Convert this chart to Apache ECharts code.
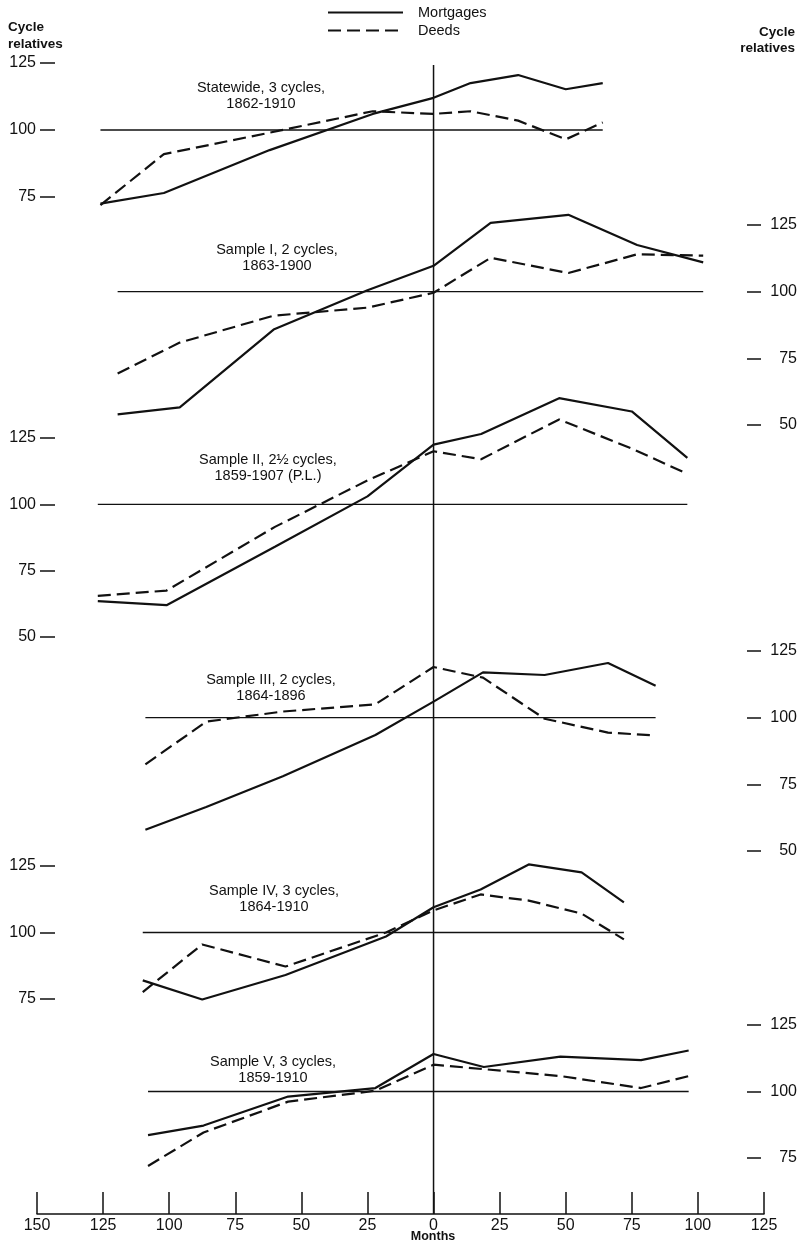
<!DOCTYPE html>
<html>
<head>
<meta charset="utf-8">
<title>Mortgages and deeds: cycle relatives</title>
<script src="https://cdn.jsdelivr.net/npm/echarts@6/dist/echarts.min.js"></script>
<style>
  html, body { margin: 0; padding: 0; background: #fff; }
  #chart { width: 804px; height: 1241px; }
</style>
</head>
<body>
<div id="chart"></div>
<script>
// Months from the reference date (0 = cycle peak) and cycle relatives per panel
const months1 = [-126, -102, -62, -23, 0, 14, 32, 50, 64];
const mortgages1 = [72.5, 76.5, 92.5, 106, 112, 117.5, 120.5, 115.2, 117.5];
const deeds1 = [72, 91, 99, 107, 106, 107, 103.5, 96.5, 102.8];

const months2 = [-119.5, -96, -60.5, -25, 0, 21.6, 51, 77, 102];
const mortgages2 = [54, 56.6, 85.8, 100.5, 109.7, 125.8, 128.8, 117.5, 111];
const deeds2 = [69.3, 80.9, 91, 94, 99.6, 112.7, 107, 114, 113.5];

const months3 = [-127, -101, -60, -25, 0, 18, 47.5, 75, 96];
const mortgages3 = [63.5, 62, 84, 103, 122.5, 126.5, 140, 135, 117.5];
const deeds3 = [65.5, 67.5, 91.5, 109, 120, 117, 132, 121, 111.5];

const months4 = [-109, -86, -57, -22, 0, 18.7, 42, 66, 84];
const mortgages4 = [58, 66.5, 78, 93.5, 106, 117, 116, 120.5, 112];
const deeds4 = [82.5, 98.5, 102.3, 105, 119, 115, 99.6, 94.4, 93.3];

const months5 = [-110, -87.5, -56, -18, 0, 17.8, 36, 56, 72];
const mortgages5 = [82, 74.8, 84, 98.5, 109.5, 116.2, 125.6, 122.6, 111.3];
const deeds5 = [77.6, 95.5, 87.2, 100, 108.3, 114.3, 112, 107.1, 97.4];

const months6 = [-108, -87, -55, -22, 0, 19, 48, 78.5, 96.5];
const mortgages6 = [83.6, 87.2, 98.1, 101.3, 114.1, 109.2, 113.1, 111.8, 115.4];
const deeds6 = [72, 84.6, 96.2, 100.3, 110.1, 108.4, 105.8, 101.3, 105.8];

// Panel captions
const panelTitles = [
  'Statewide, 3 cycles,\n1862-1910',
  'Sample I, 2 cycles,\n1863-1900',
  'Sample II, 2\u00bd cycles,\n1859-1907 (P.L.)',
  'Sample III, 2 cycles,\n1864-1896',
  'Sample IV, 3 cycles,\n1864-1910',
  'Sample V, 3 cycles,\n1859-1910'
];

// Lowest labelled value on each panel's own scale (top is always 125)
const panelMin = [75, 50, 50, 50, 75, 75];
const baseValue = 100;
const monthRange = [-150, 125];
const seriesNames = ['Mortgages', 'Deeds'];
const axisTitle = 'Months';
const scaleTitle = 'Cycle\nrelatives';

const panels = [
  [months1, mortgages1, deeds1],
  [months2, mortgages2, deeds2],
  [months3, mortgages3, deeds3],
  [months4, mortgages4, deeds4],
  [months5, mortgages5, deeds5],
  [months6, mortgages6, deeds6]
];

// ---- layout ----
const FONT = '"Liberation Sans", Arial, Helvetica, sans-serif';
const INK = '#111';
const GRID_LEFT = 37, GRID_RIGHT = 40;
const panelBox = [
  { top: 63, height: 134 },
  { top: 225, height: 200 },
  { top: 438, height: 199 },
  { top: 651, height: 200 },
  { top: 866, height: 133 },
  { top: 1025, height: 133 }
];
const axisSide = ['left', 'right', 'left', 'right', 'left', 'right'];
const titlePos = [
  [261, 80], [277, 242], [268, 452], [271, 672], [274, 883], [273, 1054]
];

const grid = [{ left: GRID_LEFT, right: GRID_RIGHT, top: 65, bottom: 27, outerBoundsMode: 'none' }];
const xAxis = [{
  gridIndex: 0, type: 'value', min: monthRange[0], max: monthRange[1], interval: 25,
  position: 'bottom',
  axisLine: { show: true, onZero: false, lineStyle: { color: INK, width: 1.5 } },
  axisTick: { show: true, inside: true, length: 22, lineStyle: { color: INK, width: 1.5 } },
  axisLabel: { formatter: v => String(Math.abs(v)), fontSize: 16, color: INK, fontFamily: FONT, margin: 4 },
  splitLine: { show: false }
}];
const yAxis = [{ gridIndex: 0, type: 'value', min: 0, max: 1, show: false }];
const series = [];

// vertical reference line at month 0
series.push({
  name: 'reference', type: 'line', xAxisIndex: 0, yAxisIndex: 0,
  data: [[0, 0], [0, 1]], symbol: 'none', silent: true,
  lineStyle: { color: INK, width: 1.5 }
});

panels.forEach((p, i) => {
  const gi = i + 1;
  const [m, mort, deeds] = p;
  grid.push({ left: GRID_LEFT, right: GRID_RIGHT, top: panelBox[i].top, height: panelBox[i].height, outerBoundsMode: 'none' });
  xAxis.push({ gridIndex: gi, type: 'value', min: monthRange[0], max: monthRange[1], show: false });
  const left = axisSide[i] === 'left';
  yAxis.push({
    gridIndex: gi, type: 'value', min: panelMin[i], max: 125, interval: 25,
    position: axisSide[i], offset: left ? -18 : -17,
    axisLine: { show: false, onZero: false },
    axisTick: { show: true, length: left ? 15 : 14, lineStyle: { color: INK, width: 1.5 } },
    axisLabel: {
      show: true, fontSize: 16, color: INK, fontFamily: FONT,
      margin: left ? 19 : 50, align: 'right'
    },
    splitLine: { show: false }
  });
  // base line at 100 across the span of the panel's data
  series.push({
    name: 'base' + gi, type: 'line', xAxisIndex: gi, yAxisIndex: gi,
    data: [[m[0], baseValue], [m[m.length - 1], baseValue]],
    symbol: 'none', silent: true, lineStyle: { color: INK, width: 1.3 }
  });
  series.push({
    name: seriesNames[0], type: 'line', xAxisIndex: gi, yAxisIndex: gi,
    data: m.map((x, k) => [x, mort[k]]), symbol: 'none', clip: false,
    lineStyle: { color: INK, width: 2.2, type: 'solid' }, itemStyle: { color: INK }
  });
  series.push({
    name: seriesNames[1], type: 'line', xAxisIndex: gi, yAxisIndex: gi,
    data: m.map((x, k) => [x, deeds[k]]), symbol: 'none', clip: false,
    lineStyle: { color: INK, width: 2.2, type: [13, 6] }, itemStyle: { color: INK }
  });
});

const graphic = panelTitles.map((t, i) => ({
  type: 'text', x: titlePos[i][0], y: titlePos[i][1], silent: true,
  style: { text: t, align: 'center', verticalAlign: 'top', lineHeight: 16, fontSize: 14.5, fontFamily: FONT, fill: INK }
}));
graphic.push({
  type: 'text', x: 8, y: 19, silent: true,
  style: { text: scaleTitle, align: 'left', verticalAlign: 'top', lineHeight: 17, fontSize: 13.5, fontWeight: 'bold', fontFamily: FONT, fill: INK }
});
graphic.push({
  type: 'text', x: 795, y: 24, silent: true,
  style: { text: scaleTitle, align: 'right', verticalAlign: 'top', lineHeight: 16, fontSize: 13.5, fontWeight: 'bold', fontFamily: FONT, fill: INK }
});
graphic.push({
  type: 'text', x: 433, y: 1230, silent: true,
  style: { text: axisTitle, align: 'center', verticalAlign: 'top', fontSize: 12.5, fontWeight: 'bold', fontFamily: FONT, fill: INK }
});

const chart = echarts.init(document.getElementById('chart'), null, { renderer: 'canvas' });
chart.setOption({
  backgroundColor: '#fff',
  animation: false,
  legend: {
    data: seriesNames, orient: 'vertical', left: 327, top: 5, padding: 0,
    itemWidth: 75, itemHeight: 14, itemGap: 3,
    itemStyle: { opacity: 0 },
    textStyle: { fontSize: 14.5, color: INK, fontFamily: FONT, padding: [0, 0, 0, 10] },
    selectedMode: false
  },
  grid, xAxis, yAxis, series, graphic
});
</script>
</body>
</html>
